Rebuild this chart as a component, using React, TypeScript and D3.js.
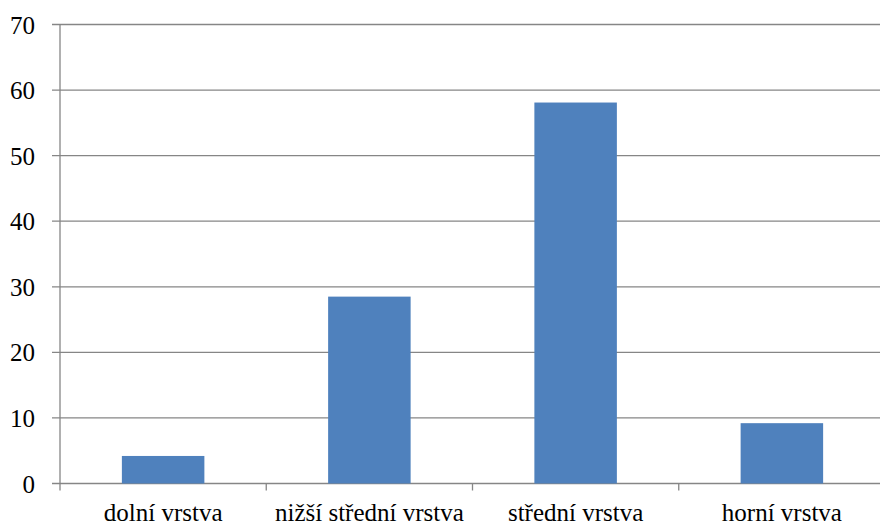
import React from "react";
import * as d3 from "d3";

// values
const categories = ["dolní vrstva", "nižší střední vrstva", "střední vrstva", "horní vrstva"];
const values = [4.2, 28.5, 58.1, 9.2];
const yTicks = [0, 10, 20, 30, 40, 50, 60, 70];

const W = 880;
const H = 527;

// plot area
const left = 60;
const right = 885;
const top = 24.5;
const bottom = 483.5;

const x = d3.scaleBand().domain(categories).range([left, right]).paddingInner(0.6).paddingOuter(0.3);
const y = d3.scaleLinear().domain([0, 70]).range([bottom, top]);

const gray = "#868686";

export default function App() {
  const bounds = d3.range(categories.length + 1).map((i) => left + i * x.step());

  return (
    <div style={{ fontFamily: "'Times New Roman'" }}>
      <svg
        width={W}
        height={H}
        fontFamily="Times New Roman"
        fontSize={25}
        style={{ position: "fixed", left: 0, top: 0, background: "#fff" }}
      >
        {/* gridlines */}
        {yTicks.map((t) => (
          <line key={"g" + t} x1={52} x2={W} y1={y(t)} y2={y(t)} stroke={gray} strokeWidth={1.3} />
        ))}
        {/* y tick labels */}
        {yTicks.map((t) => (
          <text key={"t" + t} x={35} y={y(t) + 9} textAnchor="end" fontFamily="Times New Roman">
            {t}
          </text>
        ))}
        {/* bars */}
        {values.map((v, i) => (
          <rect
            key={categories[i]}
            x={x(categories[i])}
            width={x.bandwidth()}
            y={y(v)}
            height={y(0) - y(v)}
            fill="#4F81BD"
          />
        ))}
        {/* y axis */}
        <line x1={left} x2={left} y1={top} y2={bottom} stroke={gray} strokeWidth={1.3} />
        {/* category ticks */}
        {bounds.map((b) => (
          <line key={"b" + b} x1={b} x2={b} y1={bottom} y2={bottom + 7} stroke={gray} strokeWidth={1.3} />
        ))}
        {/* category labels */}
        {categories.map((c) => (
          <text key={"c" + c} x={x(c)! + x.bandwidth() / 2} y={521} textAnchor="middle" fontFamily="Times New Roman">
            {c}
          </text>
        ))}
      </svg>
    </div>
  );
}
